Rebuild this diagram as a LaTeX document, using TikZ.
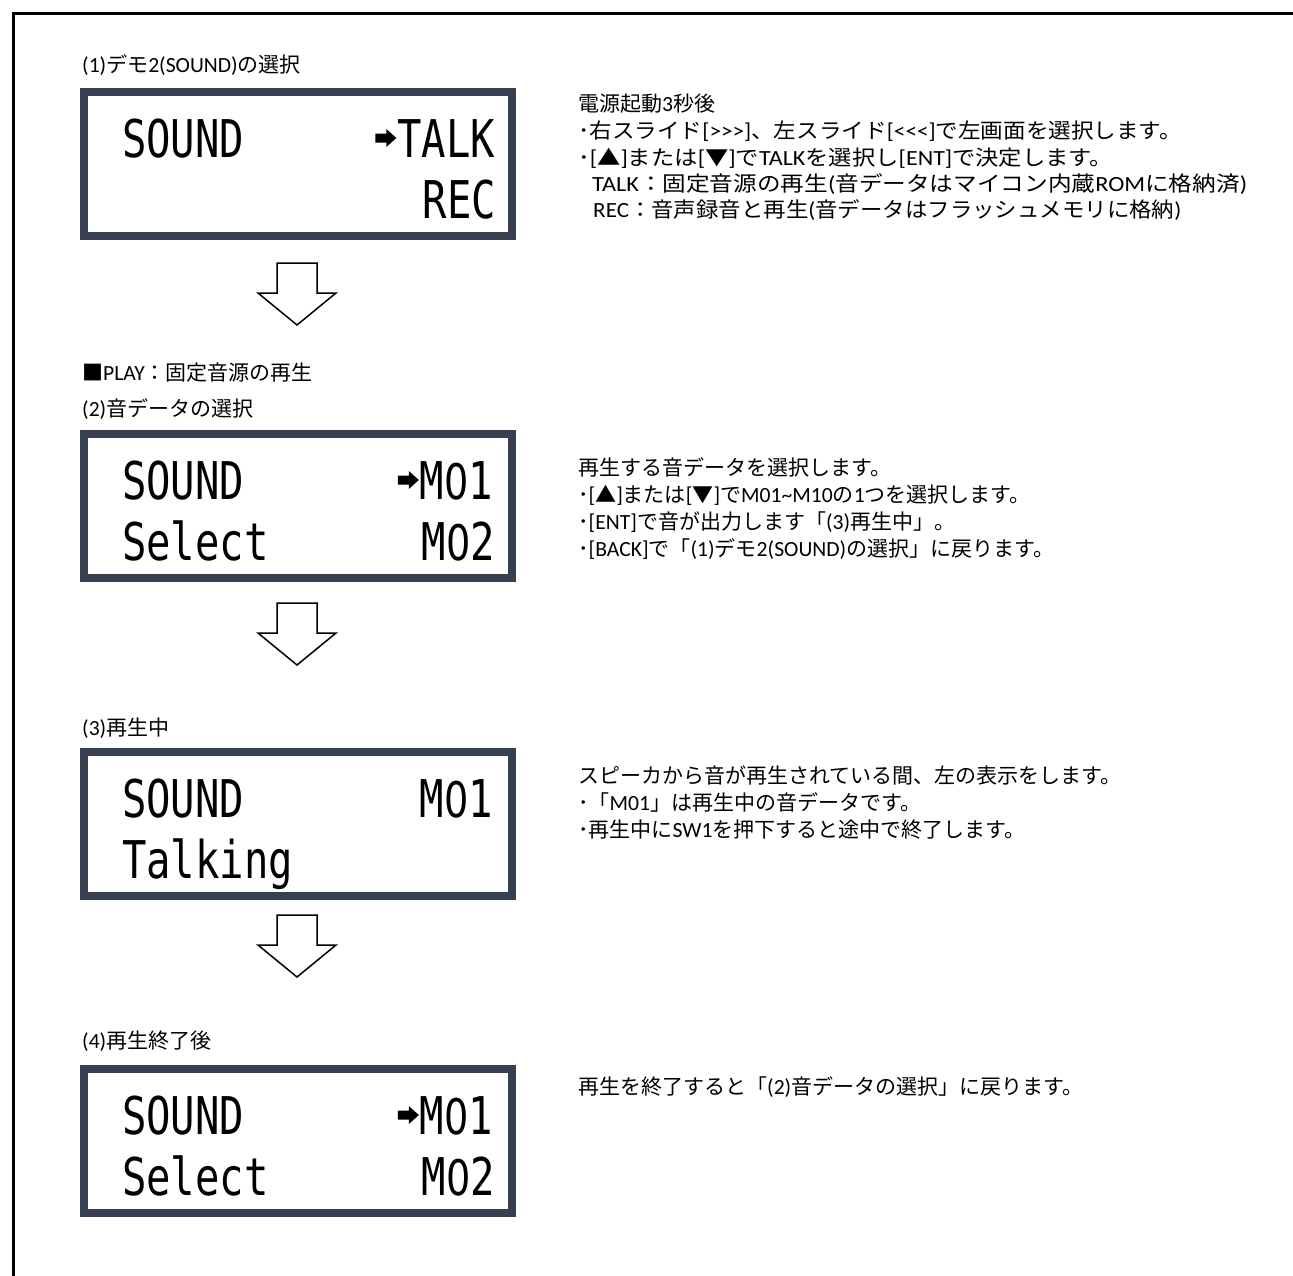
\documentclass[tikz,border=0pt]{standalone}
\usepackage{fontspec}
\usepackage{graphicx}
\usetikzlibrary{calc}
\setmainfont{Noto Sans CJK JP}
\newfontfamily\lat[Scale=1.03]{Carlito}
\newfontfamily\lcdfont{DejaVu Sans Mono}
\newfontfamily\zerofont{DejaVu Sans}
\definecolor{lcdframe}{RGB}{54,64,80}
\tikzset{
  jtext/.style={anchor=base west, inner sep=0pt, font=\fontsize{21}{27}\selectfont},
  lcdbox/.style={draw=lcdframe, line width=8pt, fill=white, minimum width=428pt, minimum height=144pt, inner sep=0pt, outer sep=0pt, anchor=north west},
  lcdleft/.style={anchor=base west, inner sep=0pt, outer sep=0pt, font=\fontsize{52}{52}\lcdfont},
  lcdright/.style={anchor=base east, inner sep=0pt, outer sep=0pt, font=\fontsize{52}{52}\lcdfont},
  lcdarrow/.style={fill=black, draw=none},
  hollowarrow/.style={draw=black, line width=1.5pt, fill=white, line join=miter},
  frameline/.style={draw=black, line width=3pt}
}
\newcommand{\lcdtxt}[1]{\scalebox{0.78}[1]{#1}}
\newcommand{\zr}{{\zerofont\fontsize{49}{49}\selectfont 0}}
\newcommand{\wide}[2]{\scalebox{#1}[1]{#2}}
\begin{document}
\begin{tikzpicture}[x=1pt, y=-1pt]
\useasboundingbox (0,0) rectangle (1293,1275);
\fill[white] (0,0) rectangle (1293,1275);
% outer frame
\coordinate (fbl) at (13.5,1276);
\coordinate (ftl) at (13.5,13.5);
\coordinate (ftr) at (1294,13.5);
\draw[frameline] (fbl) -- (ftl) -- (ftr);

% ---------- (1)
\node[jtext] (c1) at (82,72) {{\lat (1)}デモ{\lat 2(SOUND)}の選択};
\node[lcdbox] (b1) at (84,92) {};
\node[lcdleft] (b1l1) at (122,157) {\lcdtxt{SOUND}};
\node[lcdright] (b1r1) at (495,157) {\lcdtxt{TALK}};
\fill[lcdarrow, shift={($(b1r1.base west)+(-1,-19)$)}] (0,0) -- (-10,-9) -- (-10,-4.5) -- (-21,-4.5) -- (-21,4.5) -- (-10,4.5) -- (-10,9) -- cycle;
\node[lcdright] (b1r2) at (496,218) {\lcdtxt{REC}};

\node[jtext] (s1a) at (578,111) {電源起動{\lat 3}秒後};
\node[jtext] (s1b) at (578,138) {\wide{1.075}{･右スライド{\lat [>>>]}、左スライド{\lat [<<<]}で左画面を選択します。}};
\node[jtext] (s1c) at (578,165) {\wide{1.11}{･{\lat [}▲{\lat ]}または{\lat [}▼{\lat ]}で{\lat TALK}を選択し{\lat [ENT]}で決定します。}};
\node[jtext] (s1d) at (592,191) {\wide{1.125}{{\lat TALK}：固定音源の再生{\lat (}音データはマイコン内蔵{\lat ROM}に格納済{\lat )}}};
\node[jtext] (s1e) at (593,217) {\wide{1.068}{{\lat REC}：音声録音と再生{\lat (}音データはフラッシュメモリに格納{\lat )}}};

\draw[hollowarrow, shift={(297,263)}] (-20,0) -- (20,0) -- (20,30) -- (39,30) -- (0,62) -- (-39,30) -- (-20,30) -- cycle;

% ---------- (2)
\node[jtext] (c2a) at (82,380) {■{\lat PLAY}：固定音源の再生};
\node[jtext] (c2b) at (82,416) {{\lat (2)}音データの選択};
\node[lcdbox] (b2) at (84,434) {};
\node[lcdleft] (b2l1) at (122,499) {\lcdtxt{SOUND}};
\node[lcdright] (b2r1) at (493,499) {\lcdtxt{M\zr 1}};
\fill[lcdarrow, shift={($(b2r1.base west)+(-1,-19)$)}] (0,0) -- (-10,-9) -- (-10,-4.5) -- (-21,-4.5) -- (-21,4.5) -- (-10,4.5) -- (-10,9) -- cycle;
\node[lcdleft] (b2l2) at (122,560) {\lcdtxt{Select}};
\node[lcdright] (b2r2) at (495,560) {\lcdtxt{M\zr 2}};

\node[jtext] (s2a) at (578,475) {再生する音データを選択します。};
\node[jtext] (s2b) at (578,502) {･{\lat [}▲{\lat ]}または{\lat [}▼{\lat ]}で{\lat M01\textasciitilde M10}の{\lat 1}つを選択します。};
\node[jtext] (s2c) at (578,529) {･{\lat [ENT]}で音が出力します「{\lat (3)}再生中」。};
\node[jtext] (s2d) at (578,556) {･{\lat [BACK]}で「{\lat (1)}デモ{\lat 2(SOUND)}の選択」に戻ります。};

\draw[hollowarrow, shift={(297,603)}] (-20,0) -- (20,0) -- (20,30) -- (39,30) -- (0,62) -- (-39,30) -- (-20,30) -- cycle;

% ---------- (3)
\node[jtext] (c3) at (82,735) {{\lat (3)}再生中};
\node[lcdbox] (b3) at (84,752) {};
\node[lcdleft] (b3l1) at (122,817) {\lcdtxt{SOUND}};
\node[lcdright] (b3r1) at (493,817) {\lcdtxt{M\zr 1}};
\node[lcdleft] (b3l2) at (122,878) {\lcdtxt{Talking}};

\node[jtext] (s3a) at (578,783) {スピーカから音が再生されている間、左の表示をします。};
\node[jtext] (s3b) at (578,810) {･「{\lat M01}」は再生中の音データです。};
\node[jtext] (s3c) at (578,837) {･再生中に{\lat SW1}を押下すると途中で終了します。};

\draw[hollowarrow, shift={(297,915)}] (-20,0) -- (20,0) -- (20,30) -- (39,30) -- (0,62) -- (-39,30) -- (-20,30) -- cycle;

% ---------- (4)
\node[jtext] (c4) at (82,1048) {{\lat (4)}再生終了後};
\node[lcdbox] (b4) at (84,1069) {};
\node[lcdleft] (b4l1) at (122,1134) {\lcdtxt{SOUND}};
\node[lcdright] (b4r1) at (493,1134) {\lcdtxt{M\zr 1}};
\fill[lcdarrow, shift={($(b4r1.base west)+(-1,-19)$)}] (0,0) -- (-10,-9) -- (-10,-4.5) -- (-21,-4.5) -- (-21,4.5) -- (-10,4.5) -- (-10,9) -- cycle;
\node[lcdleft] (b4l2) at (122,1195) {\lcdtxt{Select}};
\node[lcdright] (b4r2) at (495,1195) {\lcdtxt{M\zr 2}};

\node[jtext] (s4a) at (578,1094) {再生を終了すると「{\lat (2)}音データの選択」に戻ります。};
\end{tikzpicture}
\end{document}
